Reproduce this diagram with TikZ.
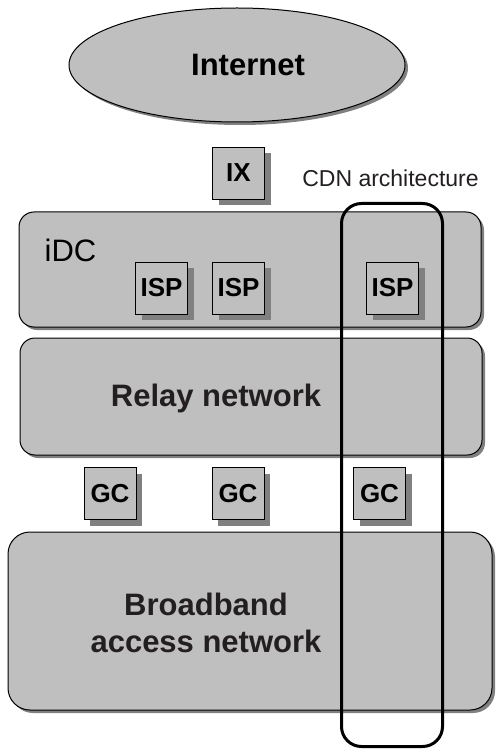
\documentclass[tikz,border=0pt]{standalone}
\usepackage{fontspec}
\setmainfont{Liberation Sans}
\usetikzlibrary{shapes.geometric,shadows}
\definecolor{boxgray}{gray}{0.75}
\definecolor{shadegray}{gray}{0.5}
\definecolor{inkdark}{HTML}{231F20}
\begin{document}
\begin{tikzpicture}[x=1pt,y=-1pt,
  panel/.style={draw=black, line width=1pt, fill=boxgray, rounded corners=15pt, inner sep=0pt,
    drop shadow={shadow xshift=3pt, shadow yshift=-3pt, fill=shadegray, opacity=1}},
  smallbox/.style={draw=black, line width=0.8pt, fill=boxgray, minimum size=52pt, inner sep=0pt,
    font=\fontsize{26}{30}\selectfont\bfseries,
    drop shadow={shadow xshift=6pt, shadow yshift=-6pt, fill=shadegray, opacity=1}},
  biglabel/.style={font=\fontsize{31}{37}\selectfont\bfseries, text=inkdark, inner sep=0pt},
  cdnframe/.style={draw=black, line width=3pt, rounded corners=20pt, inner sep=0pt}
]
\useasboundingbox (0,0) rectangle (496,751);

% Internet cloud
\node[ellipse, draw=black, line width=1pt, fill=boxgray, minimum width=336pt, minimum height=114pt, inner sep=0pt,
  font=\fontsize{31}{37}\selectfont\bfseries,
  drop shadow={shadow xshift=3pt, shadow yshift=-3pt, fill=shadegray, opacity=1}]
  (internet) at (237,65) {\hspace*{22pt}Internet};

% layers
\node[panel, minimum width=462pt, minimum height=115pt] (idc) at (250,269.5) {};
\node[panel, minimum width=462pt, minimum height=117pt] (relay) at (251,396.5) {};
\node[panel, rounded corners=22pt, minimum width=484pt, minimum height=178pt] (bb) at (250,621) {};

% labels in layers
\node[font=\fontsize{31}{37}\selectfont, anchor=base, inner sep=0pt] (idclabel) at (70.5,261) {iDC};
\node[biglabel, anchor=base] (relaylabel) at (216,406) {Relay network};
\node[biglabel, align=center] (bblabel) at (206,623) {Broadband\\access network};

% small boxes
\node[smallbox] (ix) at (238.5,173) {IX};
\node[smallbox] (isp1) at (161.5,288) {ISP};
\node[smallbox] (isp2) at (238.5,288) {ISP};
\node[smallbox] (isp3) at (392.5,288) {ISP};
\node[smallbox] (gc1) at (110,493.5) {GC};
\node[smallbox] (gc2) at (238,493.5) {GC};
\node[smallbox] (gc3) at (379.5,493.5) {GC};

% CDN architecture frame
\node[cdnframe, minimum width=101pt, minimum height=543pt] (cdn) at (392,475) {};
\node[font=\fontsize{23}{27}\selectfont, text=inkdark, anchor=base, inner sep=0pt] (cdnlabel) at (390.5,187) {CDN architecture};
\end{tikzpicture}
\end{document}
